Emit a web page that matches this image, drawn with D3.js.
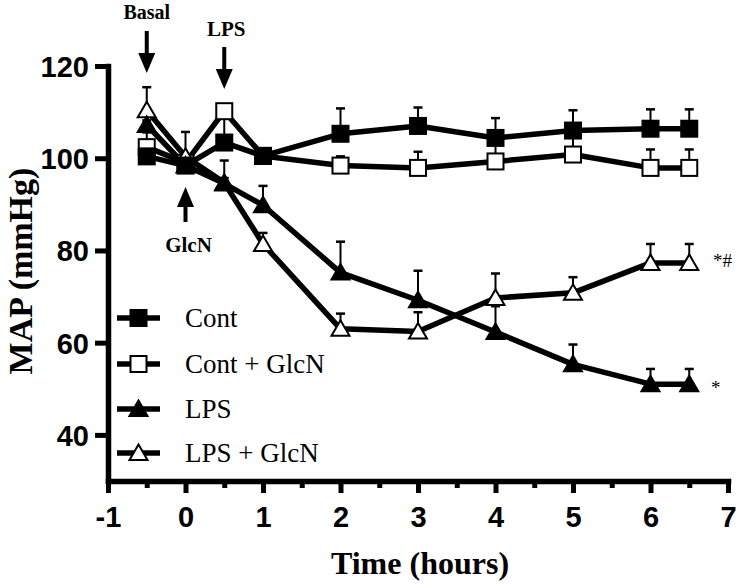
<!DOCTYPE html>
<html>
<head>
<meta charset="utf-8">
<script src="https://cdn.jsdelivr.net/npm/d3@7"></script>
<style>
  html, body { margin: 0; padding: 0; background: #fff; }
  svg { display: block; }
</style>
</head>
<body>
<svg id="chart" width="739" height="584"></svg>
<script>
// ---- data ----
const time = [-0.5, 0, 0.5, 1, 2, 3, 4, 5, 6, 6.5];
const seriesNames = ["Cont", "Cont + GlcN", "LPS", "LPS + GlcN"];
const cont        = [100.4, 98.4, 103.4, 100.5, 105.3, 107.0, 104.4, 106.0, 106.4, 106.4];
const contErr     = [1.0, 1.0, 5.3, 1.0, 5.5, 4.0, 4.3, 4.4, 4.2, 4.2];
const contGlcN    = [102.4, 99.0, 110.2, 100.5, 98.4, 97.9, 99.3, 100.8, 97.9, 97.9];
const contGlcNErr = [3.2, 1.0, 1.0, 0.5, 2.0, 3.5, 4.5, 5.0, 4.0, 4.0];
const lps         = [107.2, 98.4, 94.5, 89.8, 75.2, 69.2, 62.3, 55.3, 51.0, 51.0];
const lpsErr      = [1.0, 1.0, 5.0, 4.2, 6.7, 6.4, 5.6, 4.3, 3.3, 3.3];
const lpsGlcN     = [110.4, 100.3, 94.7, 81.4, 63.0, 62.4, 69.7, 70.8, 77.3, 77.3];
const lpsGlcNErr  = [5.0, 5.4, 1.0, 2.4, 3.3, 4.2, 5.3, 3.4, 4.1, 4.1];
const xTicks = [-1, 0, 1, 2, 3, 4, 5, 6, 7];
const xTickLabels = ["-1", "0", "1", "2", "3", "4", "5", "6", "7"];
const xMinorTicks = [-0.5, 0.5, 1.5, 2.5, 3.5, 4.5, 5.5, 6.5];
const yTicks = [40, 60, 80, 100, 120];

const series = [
  { name: seriesNames[0], values: cont,     err: contErr,     shape: "square",   filled: true  },
  { name: seriesNames[1], values: contGlcN, err: contGlcNErr, shape: "square",   filled: false },
  { name: seriesNames[2], values: lps,      err: lpsErr,      shape: "triangle", filled: true  },
  { name: seriesNames[3], values: lpsGlcN,  err: lpsGlcNErr,  shape: "triangle", filled: false }
];

const serif = "'Liberation Serif', 'Times New Roman', serif";
const sans = "'Liberation Sans', Arial, sans-serif";

const svg = d3.select("#chart");
const x = d3.scaleLinear().domain([-1, 7]).range([108, 728]);
const y = d3.scaleLinear().domain([30, 120]).range([481, 66]);

// ---- axes ----
const gx = svg.append("g").attr("transform", `translate(0,${y(30)})`)
  .call(d3.axisBottom(x).tickValues(xTicks).tickSize(12).tickSizeOuter(0)
    .tickFormat((d, i) => xTickLabels[i]));
const gxm = svg.append("g").attr("transform", `translate(0,${y(30)})`)
  .call(d3.axisBottom(x).tickValues(xMinorTicks).tickSize(7).tickSizeOuter(0).tickFormat(""));
gxm.select(".domain").remove();
const gy = svg.append("g").attr("transform", `translate(${x(-1)},0)`)
  .call(d3.axisLeft(y).tickValues(yTicks).tickSize(13).tickSizeOuter(0));

[gx, gxm, gy].forEach(g => {
  g.selectAll(".domain").attr("stroke", "#000").attr("stroke-width", 5.5).attr("stroke-linecap", "square");
  g.selectAll(".tick line").attr("stroke", "#000").attr("stroke-width", 5);
});
gx.selectAll(".tick text").attr("font-family", sans).attr("font-weight", "bold")
  .attr("font-size", 29).attr("fill", "#000").attr("y", 25).attr("dy", "0.71em");
gy.selectAll(".tick text").attr("font-family", sans).attr("font-weight", "bold")
  .attr("font-size", 29).attr("fill", "#000").attr("x", -19).attr("dy", "0.36em");

// axis titles
svg.append("text").attr("x", 420).attr("y", 574).attr("text-anchor", "middle")
  .attr("font-family", serif).attr("font-weight", "bold").attr("font-size", 32).text("Time (hours)");
svg.append("text").attr("transform", "translate(32,271) rotate(-90)").attr("text-anchor", "middle")
  .attr("font-family", serif).attr("font-weight", "bold").attr("font-size", 34).text("MAP (mmHg)");

// ---- markers ----
function drawMarker(g, s, cx, cy) {
  const fill = s.filled ? "#000" : "#fff";
  if (s.shape === "square") {
    g.append("rect").attr("x", cx - 8).attr("y", cy - 8).attr("width", 16).attr("height", 16)
      .attr("fill", fill).attr("stroke", "#000").attr("stroke-width", 2);
  } else {
    g.append("path").attr("d", `M${cx},${cy - 8.5}L${cx + 9},${cy + 7}L${cx - 9},${cy + 7}Z`)
      .attr("fill", fill).attr("stroke", "#000").attr("stroke-width", 2).attr("stroke-linejoin", "miter");
  }
}

const line = d3.line().x((d, i) => x(time[i])).y(d => y(d));
const plot = svg.append("g");

// lines
series.forEach(s => {
  plot.append("path").datum(s.values).attr("d", line)
    .attr("fill", "none").attr("stroke", "#000").attr("stroke-width", 5.5).attr("stroke-linejoin", "round");
});
// error bars (upper)
series.forEach(s => {
  s.values.forEach((v, i) => {
    const cx = x(time[i]), y0 = y(v), y1 = y(v + s.err[i]);
    plot.append("line").attr("x1", cx).attr("x2", cx).attr("y1", y0).attr("y2", y1)
      .attr("stroke", "#000").attr("stroke-width", 2);
    plot.append("line").attr("x1", cx - 4.5).attr("x2", cx + 4.5).attr("y1", y1).attr("y2", y1)
      .attr("stroke", "#000").attr("stroke-width", 2.5);
  });
});
// markers: open ones first, filled ones on top
series.filter(s => !s.filled).concat(series.filter(s => s.filled)).forEach(s => {
  s.values.forEach((v, i) => drawMarker(plot, s, x(time[i]), y(v)));
});

// ---- legend ----
const legendY = [318, 364, 409, 453];
series.forEach((s, i) => {
  const g = svg.append("g");
  g.append("line").attr("x1", 117).attr("x2", 160).attr("y1", legendY[i]).attr("y2", legendY[i])
    .attr("stroke", "#000").attr("stroke-width", 5.5);
  drawMarker(g, s, 138.5, legendY[i]);
  g.append("text").attr("x", 185).attr("y", legendY[i]).attr("dy", "0.33em")
    .attr("font-family", serif).attr("font-size", 27).text(s.name);
});

// ---- annotations ----
function arrow(cx, yTail, yTip) {
  const dir = yTip > yTail ? 1 : -1;
  const headLen = 20, headW = 8.5;
  svg.append("line").attr("x1", cx).attr("x2", cx).attr("y1", yTail).attr("y2", yTip - dir * headLen + dir)
    .attr("stroke", "#000").attr("stroke-width", 4);
  svg.append("path").attr("d", `M${cx},${yTip}L${cx - headW},${yTip - dir * headLen}L${cx + headW},${yTip - dir * headLen}Z`)
    .attr("fill", "#000");
}
arrow(x(-0.5), 31, 73);
arrow(x(0.5), 47, 89);
arrow(x(0), 222, 187);
svg.append("text").attr("x", x(-0.5)).attr("y", 19).attr("text-anchor", "middle")
  .attr("font-family", serif).attr("font-weight", "bold").attr("font-size", 20).text("Basal");
svg.append("text").attr("x", x(0.5) + 2).attr("y", 36).attr("text-anchor", "middle")
  .attr("font-family", serif).attr("font-weight", "bold").attr("font-size", 21).text("LPS");
svg.append("text").attr("x", x(0) + 3).attr("y", 252).attr("text-anchor", "middle")
  .attr("font-family", serif).attr("font-weight", "bold").attr("font-size", 21).text("GlcN");

svg.append("text").attr("x", 713).attr("y", 267)
  .attr("font-family", serif).attr("font-size", 19).text("*#");
svg.append("text").attr("x", 711).attr("y", 394)
  .attr("font-family", serif).attr("font-size", 19).text("*");
</script>
</body>
</html>
